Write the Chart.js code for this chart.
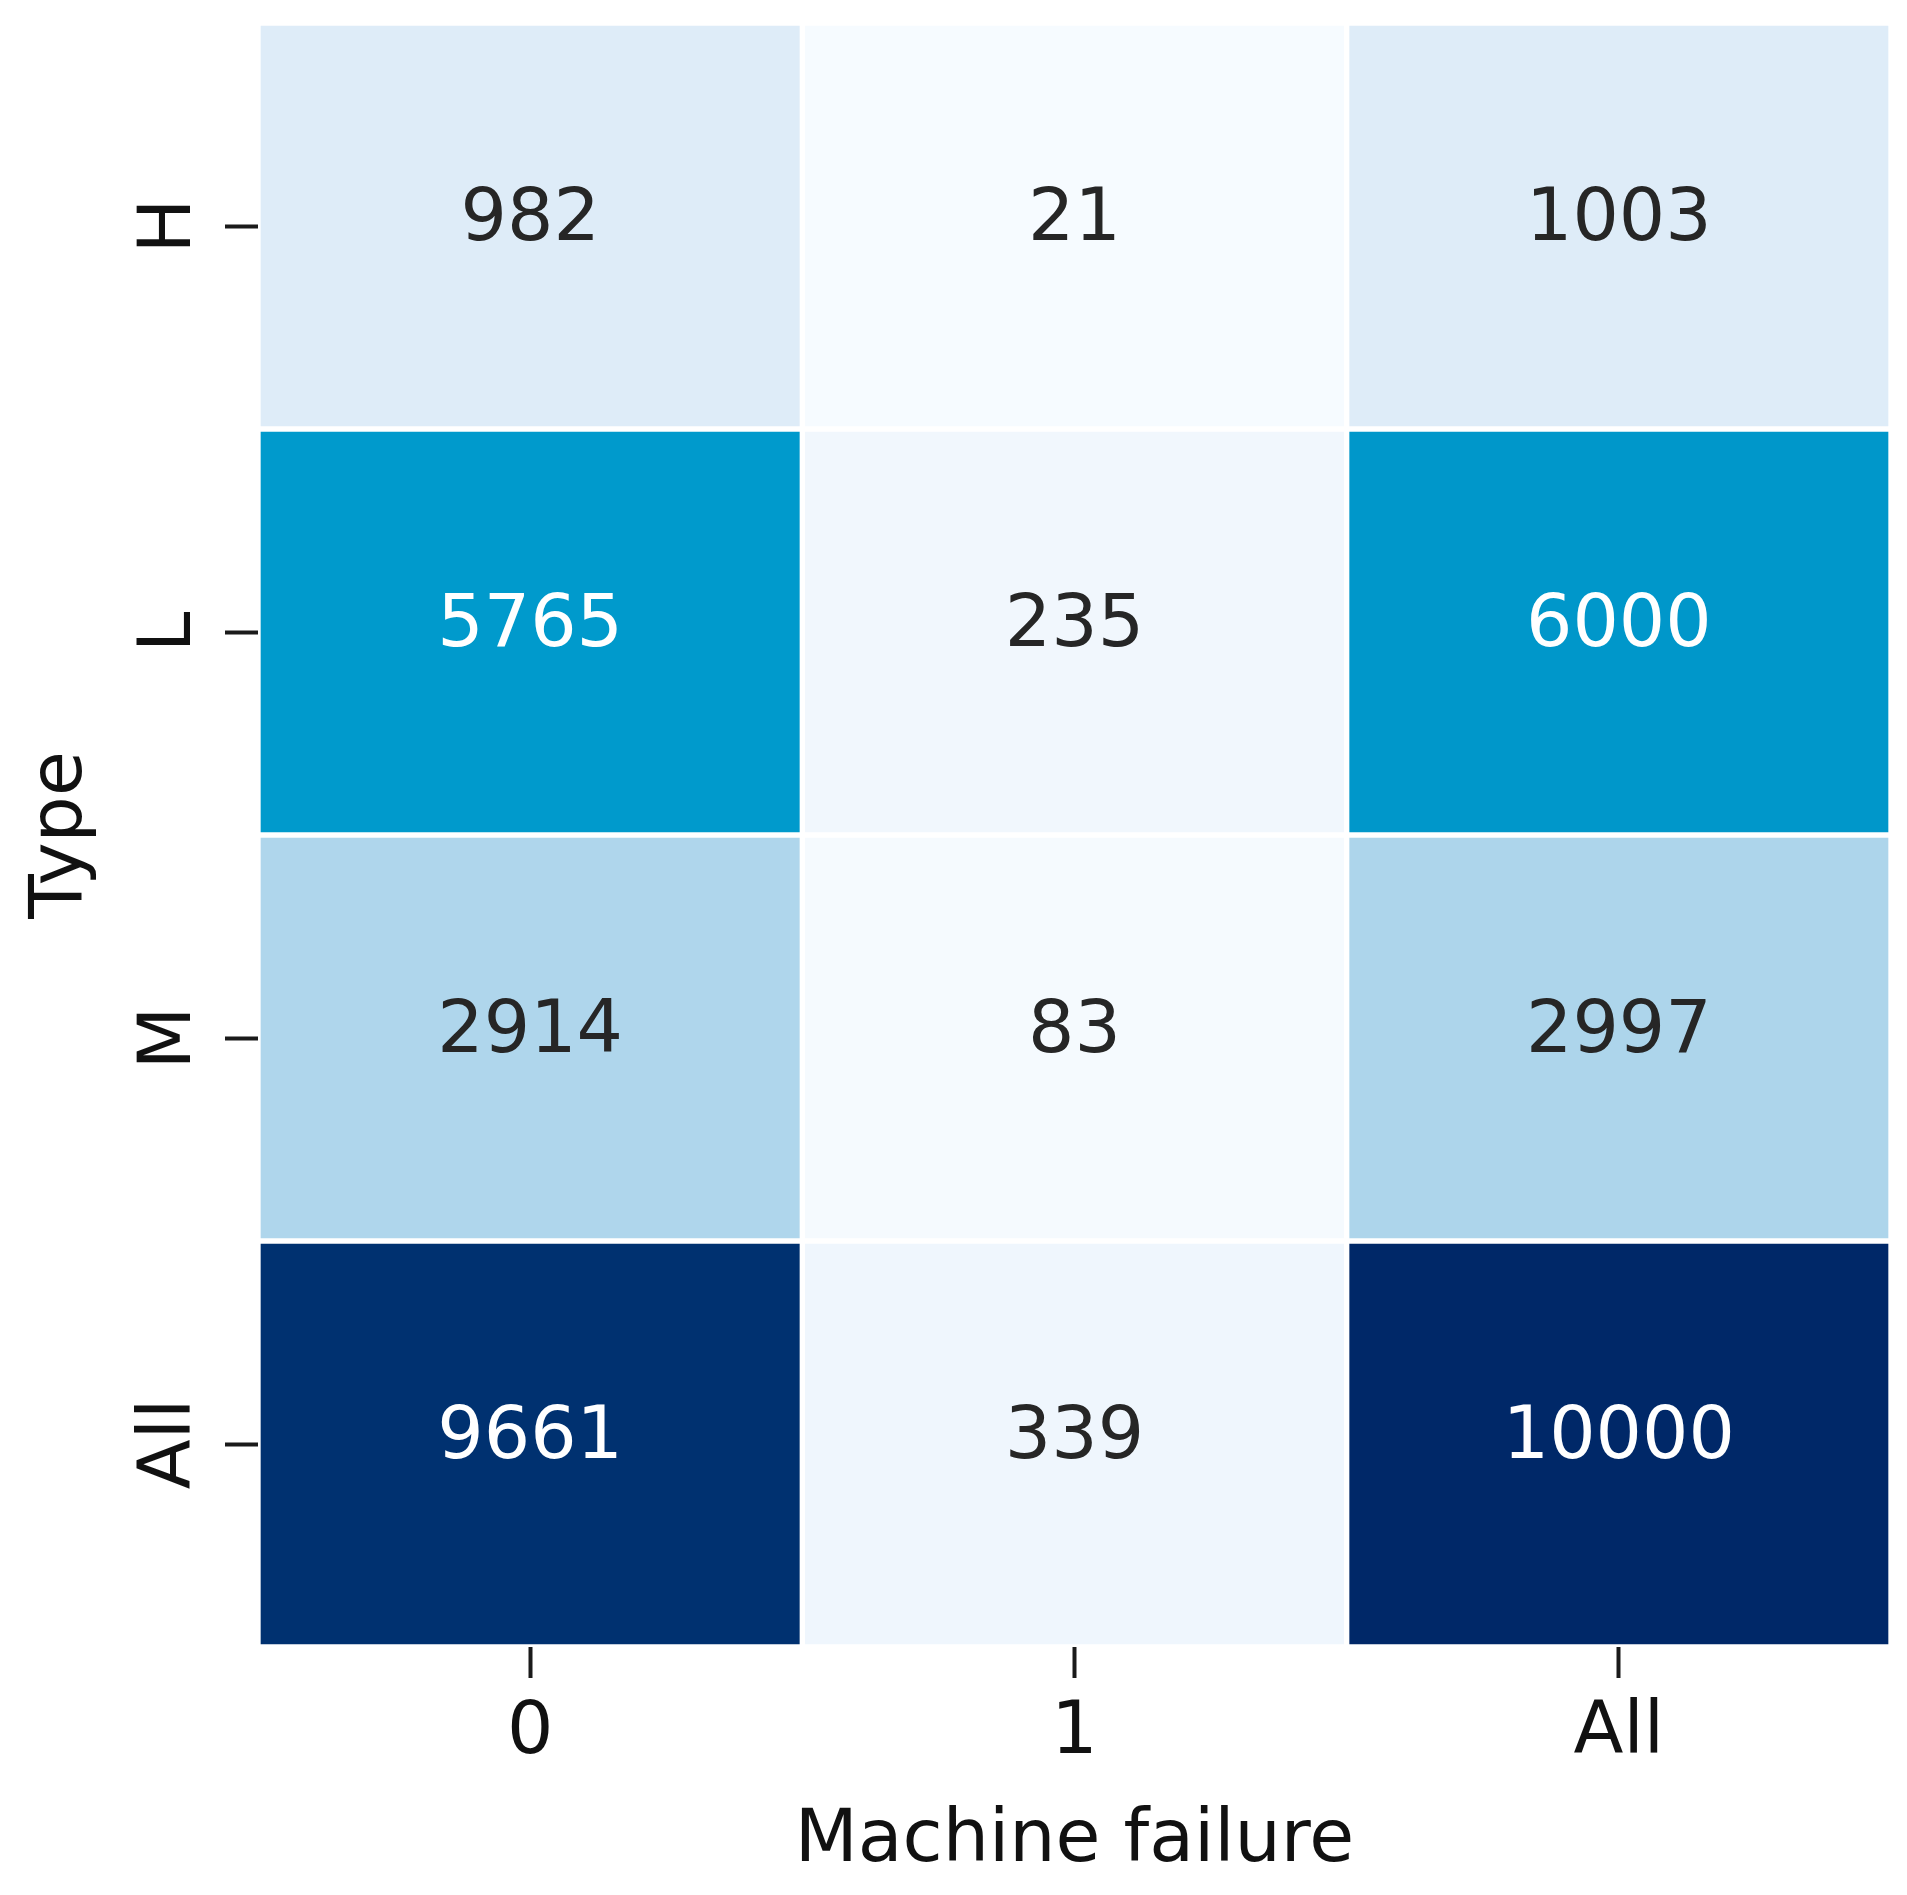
<!DOCTYPE html>
<html lang="en">
<head>
  <meta charset="UTF-8">
  <title>Machine failure by Type</title>
  <script src="https://cdn.jsdelivr.net/npm/chart.js@4.4.1/dist/chart.umd.min.js"></script>
  <style>
    html, body { margin: 0; padding: 0; background: #fff; }
    #wrap { width: 1907px; height: 1895px; }
  </style>
</head>
<body>
<div id="wrap">
  <canvas id="heatmap" width="1907" height="1895"></canvas>
</div>

<script>
  // crosstab: rows = Type, columns = Machine failure
  const typeLabels = ['H', 'L', 'M', 'All'];
  const failureLabels = ['0', '1', 'All'];
  const rowH = [982, 21, 1003];
  const rowL = [5765, 235, 6000];
  const rowM = [2914, 83, 2997];
  const rowAll = [9661, 339, 10000];
  const rows = [rowH, rowL, rowM, rowAll];

  // colour ramp (value -> colour)
  const ramp = [
    [0, [247, 251, 255]],
    [1000, [222, 236, 248]],
    [3000, [173, 213, 235]],
    [5700, [0, 155, 205]],
    [6000, [0, 151, 202]],
    [10000, [0, 40, 104]]
  ];

  function colourFor(v) {
    for (let i = 1; i < ramp.length; i++) {
      if (v <= ramp[i][0]) {
        const [v0, c0] = ramp[i - 1];
        const [v1, c1] = ramp[i];
        const t = (v - v0) / (v1 - v0);
        const c = c0.map((a, k) => Math.round(a + (c1[k] - a) * t));
        return `rgb(${c[0]}, ${c[1]}, ${c[2]})`;
      }
    }
    const c = ramp[ramp.length - 1][1];
    return `rgb(${c[0]}, ${c[1]}, ${c[2]})`;
  }

  const FONT = { family: 'DejaVu Sans', size: 73 };

  // write the count in the middle of every cell
  const cellText = {
    id: 'cellText',
    afterDatasetsDraw(chart) {
      const ctx = chart.ctx;
      ctx.save();
      ctx.font = `${FONT.size}px "${FONT.family}"`;
      ctx.textAlign = 'center';
      ctx.textBaseline = 'middle';
      chart.data.datasets.forEach((ds, di) => {
        chart.getDatasetMeta(di).data.forEach((bar, j) => {
          const v = rows[di][j];
          ctx.fillStyle = v > 5000 ? '#ffffff' : '#262626';
          ctx.fillText(String(v), bar.x, (bar.y + bar.base) / 2 - 5);
        });
      });
      ctx.restore();
    }
  };

  const datasets = rows.map((vals, i) => ({
    label: typeLabels[i],
    data: vals.map(() => [i - 0.5, i + 0.5]),
    backgroundColor: vals.map(colourFor),
    borderColor: '#ffffff',
    borderWidth: 3,
    borderSkipped: false,
    barPercentage: 1,
    categoryPercentage: 1,
    grouped: false
  }));

  new Chart(document.getElementById('heatmap').getContext('2d'), {
    type: 'bar',
    data: { labels: failureLabels, datasets: datasets },
    options: {
      responsive: false,
      animation: false,
      layout: { padding: { top: 23, right: 16, left: 0, bottom: 0 } },
      plugins: {
        legend: { display: false },
        tooltip: { enabled: false }
      },
      scales: {
        x: {
          type: 'category',
          offset: true,
          border: { display: false },
          grid: {
            display: true,
            offset: false,
            drawOnChartArea: false,
            drawTicks: true,
            tickLength: 31,
            tickWidth: 4,
            tickColor: '#1a1a1a'
          },
          ticks: { color: '#111', font: FONT, padding: 12, maxRotation: 0 },
          title: {
            display: true,
            text: 'Machine failure',
            color: '#111',
            font: FONT,
            padding: 9
          },
          afterFit(scale) {
            scale.height = 248;
            scale.paddingLeft = 0;
            scale.paddingRight = 0;
          }
        },
        y: {
          type: 'linear',
          min: -0.5,
          max: 3.5,
          reverse: true,
          border: { display: false },
          grid: {
            display: true,
            drawOnChartArea: false,
            drawTicks: true,
            tickLength: 33,
            tickWidth: 4,
            tickColor: '#1a1a1a'
          },
          afterBuildTicks(scale) {
            scale.ticks = typeLabels.map((_, i) => ({ value: i }));
          },
          ticks: {
            color: '#111',
            font: FONT,
            minRotation: 90,
            maxRotation: 90,
            crossAlign: 'center',
            padding: 9,
            callback: (v) => typeLabels[v]
          },
          title: {
            display: true,
            text: 'Type',
            color: '#111',
            font: FONT,
            padding: 18
          },
          afterFit(scale) {
            scale.width = 258;
            scale.paddingTop = 0;
            scale.paddingBottom = 0;
          }
        }
      }
    },
    plugins: [cellText]
  });
</script>
</body>
</html>
